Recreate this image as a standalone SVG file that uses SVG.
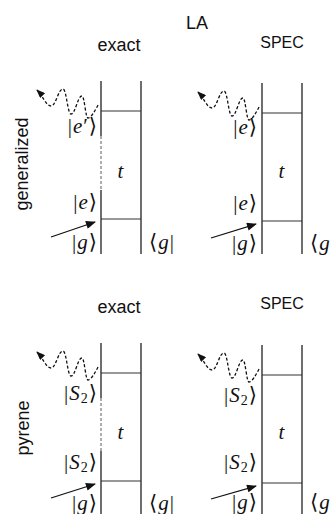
<svg xmlns="http://www.w3.org/2000/svg" width="333" height="514" viewBox="0 0 333 514">
<style>
.t{font-family:"Liberation Sans",Arial,sans-serif;fill:#111}
.v{stroke:#4a4a4a;stroke-width:1.6;fill:none}
.h{stroke:#333;stroke-width:1.2}
.dash{stroke:#999;stroke-width:1.6;stroke-dasharray:3 2}
.m{font-family:"Liberation Serif","DejaVu Serif",serif;font-size:21px;letter-spacing:1px;fill:#111}
.i{font-style:italic}
.wave{fill:none;stroke:#111;stroke-width:1.3;stroke-dasharray:3 2}
.ex{stroke:#111;stroke-width:1.3}
</style>
<defs>
<marker id="ah" markerUnits="userSpaceOnUse" viewBox="0 0 10 8" refX="9" refY="4" markerWidth="9" markerHeight="7" orient="auto"><path d="M0,0 L10,4 L0,8 z" fill="#111"/></marker>
<marker id="ah2" markerUnits="userSpaceOnUse" viewBox="0 0 10 8" refX="9" refY="4" markerWidth="11" markerHeight="8" orient="auto"><path d="M0,0 L10,4 L0,8 z" fill="#111"/></marker>
</defs>

<text class="t" x="197" y="29" font-size="18" text-anchor="middle">LA</text>
<text class="t" x="28" y="164" font-size="18" text-anchor="middle" transform="rotate(-90 28 164)">generalized</text>
<text class="t" x="29" y="428" font-size="18" text-anchor="middle" transform="rotate(-90 29 428)">pyrene</text>

<g id="d1">
<text class="t" x="119" y="51" font-size="18" text-anchor="middle">exact</text>
<line class="v" x1="101" y1="81" x2="101" y2="136"/>
<line class="dash" x1="101" y1="136" x2="101" y2="190"/>
<line class="v" x1="101" y1="190" x2="101" y2="254"/>
<line class="v" x1="141" y1="81" x2="141" y2="254"/>
<line class="h" x1="101" y1="111" x2="141" y2="111"/>
<line class="h" x1="101" y1="219" x2="141" y2="219"/>
<text class="m" x="98" y="133" text-anchor="end">|<tspan class="i">e</tspan>′⟩</text>
<text class="m i" x="121" y="178" text-anchor="middle">t</text>
<text class="m" x="98" y="209" text-anchor="end">|<tspan class="i">e</tspan>⟩</text>
<text class="m" x="98" y="249" text-anchor="end">|<tspan class="i">g</tspan>⟩</text>
<text class="m" x="149" y="249">⟨<tspan class="i">g</tspan>|</text>
</g>

<g id="d2">
<text class="t" x="282" y="48" font-size="16" text-anchor="middle">SPEC</text>
<line class="v" x1="262" y1="83" x2="262" y2="254"/>
<line class="v" x1="302" y1="83" x2="302" y2="254"/>
<line class="h" x1="262" y1="113" x2="302" y2="113"/>
<line class="h" x1="262" y1="221" x2="302" y2="221"/>
<text class="m" x="258" y="134" text-anchor="end">|<tspan class="i">e</tspan>⟩</text>
<text class="m i" x="282" y="178" text-anchor="middle">t</text>
<text class="m" x="258" y="210" text-anchor="end">|<tspan class="i">e</tspan>⟩</text>
<text class="m" x="258" y="250" text-anchor="end">|<tspan class="i">g</tspan>⟩</text>
<text class="m" x="310" y="250">⟨<tspan class="i">g</tspan></text>
</g>

<g id="d3">
<text class="t" x="119" y="313" font-size="18" text-anchor="middle">exact</text>
<line class="v" x1="101" y1="343" x2="101" y2="398"/>
<line class="dash" x1="101" y1="398" x2="101" y2="451"/>
<line class="v" x1="101" y1="451" x2="101" y2="514"/>
<line class="v" x1="141" y1="343" x2="141" y2="514"/>
<line class="h" x1="101" y1="373" x2="141" y2="373"/>
<line class="h" x1="101" y1="481" x2="141" y2="481"/>
<text class="m" x="98" y="400" text-anchor="end">|<tspan class="i">S</tspan><tspan font-size="14" dy="3">2</tspan><tspan dy="-3">⟩</tspan></text>
<text class="m i" x="121" y="439" text-anchor="middle">t</text>
<text class="m" x="98" y="469" text-anchor="end">|<tspan class="i">S</tspan><tspan font-size="14" dy="3">2</tspan><tspan dy="-3">⟩</tspan></text>
<text class="m" x="98" y="510" text-anchor="end">|<tspan class="i">g</tspan>⟩</text>
<text class="m" x="149" y="510">⟨<tspan class="i">g</tspan>|</text>
</g>

<g id="d4">
<text class="t" x="282" y="309" font-size="16" text-anchor="middle">SPEC</text>
<line class="v" x1="262" y1="345" x2="262" y2="514"/>
<line class="v" x1="302" y1="345" x2="302" y2="514"/>
<line class="h" x1="262" y1="375" x2="302" y2="375"/>
<line class="h" x1="262" y1="483" x2="302" y2="483"/>
<text class="m" x="258" y="402" text-anchor="end">|<tspan class="i">S</tspan><tspan font-size="14" dy="3">2</tspan><tspan dy="-3">⟩</tspan></text>
<text class="m i" x="282" y="439" text-anchor="middle">t</text>
<text class="m" x="258" y="469" text-anchor="end">|<tspan class="i">S</tspan><tspan font-size="14" dy="3">2</tspan><tspan dy="-3">⟩</tspan></text>
<text class="m" x="258" y="509" text-anchor="end">|<tspan class="i">g</tspan>⟩</text>
<text class="m" x="310" y="509">⟨<tspan class="i">g</tspan></text>
</g>

<g id="connectors">
<path class="wave" marker-end="url(#ah)" transform="translate(101,111)" d="M-3,-6 C-6,0 -10,7 -13,7 C-15.5,7 -16.5,-15 -19,-15 C-23.5,-15 -25.5,3 -30,3 C-33.5,3 -34.5,-22 -38,-22 C-43,-22 -45,-5 -50,-5 C-55,-5 -58,-15 -64,-21"/>
<path class="wave" marker-end="url(#ah)" transform="translate(262,113)" d="M-3,-6 C-6,0 -10,7 -13,7 C-15.5,7 -16.5,-15 -19,-15 C-23.5,-15 -25.5,3 -30,3 C-33.5,3 -34.5,-22 -38,-22 C-43,-22 -45,-5 -50,-5 C-55,-5 -58,-15 -64,-21"/>
<path class="wave" marker-end="url(#ah)" transform="translate(101,373)" d="M-3,-6 C-6,0 -10,7 -13,7 C-15.5,7 -16.5,-15 -19,-15 C-23.5,-15 -25.5,3 -30,3 C-33.5,3 -34.5,-22 -38,-22 C-43,-22 -45,-5 -50,-5 C-55,-5 -58,-15 -64,-21"/>
<path class="wave" marker-end="url(#ah)" transform="translate(262,375)" d="M-3,-6 C-6,0 -10,7 -13,7 C-15.5,7 -16.5,-15 -19,-15 C-23.5,-15 -25.5,3 -30,3 C-33.5,3 -34.5,-22 -38,-22 C-43,-22 -45,-5 -50,-5 C-55,-5 -58,-15 -64,-21"/>
<line class="ex" marker-end="url(#ah2)" x1="51" y1="237" x2="95" y2="222"/>
<line class="ex" marker-end="url(#ah2)" x1="211" y1="238" x2="256" y2="224"/>
<line class="ex" marker-end="url(#ah2)" x1="51" y1="498" x2="95" y2="484"/>
<line class="ex" marker-end="url(#ah2)" x1="211" y1="499" x2="256" y2="486"/>
</g>
</svg>
